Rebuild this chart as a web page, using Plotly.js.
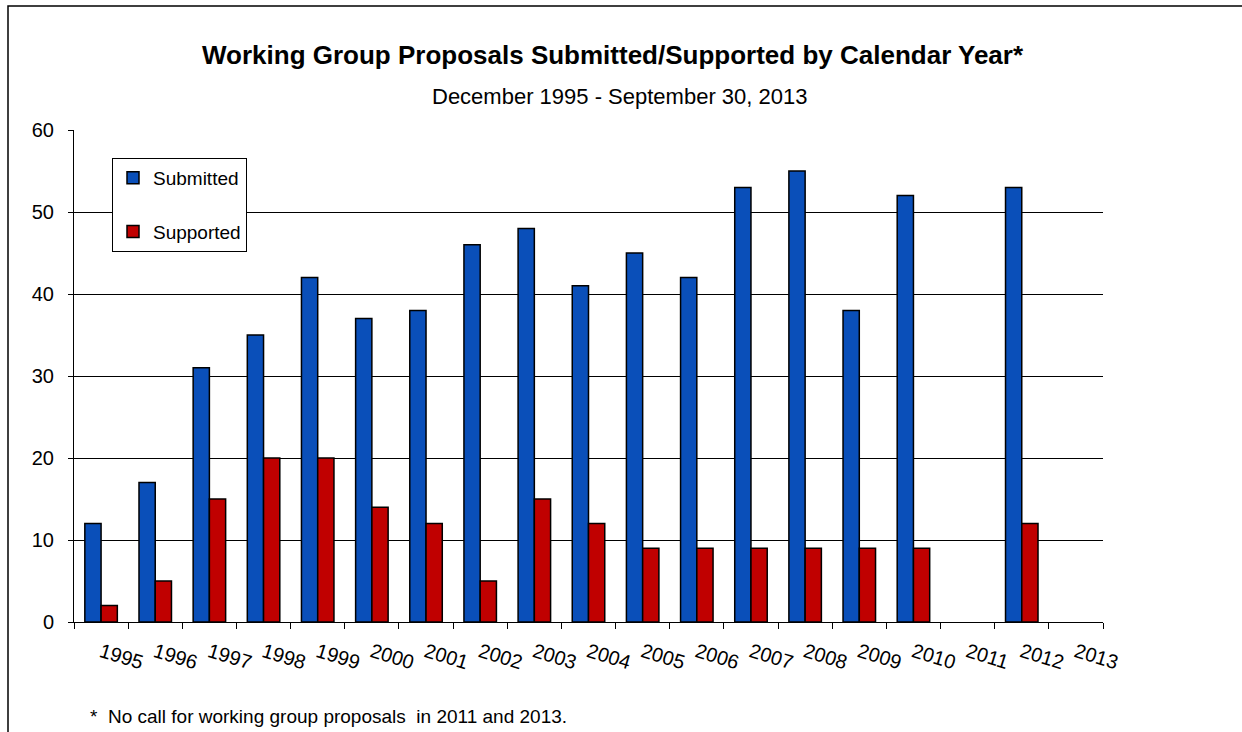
<!DOCTYPE html>
<html><head><meta charset="utf-8">
<script src="https://cdn.plot.ly/plotly-3.0.1.min.js"></script>
<style>html,body{margin:0;padding:0;background:#fff;}#chart{width:1242px;height:732px;}</style>
</head><body><div id="chart"></div>
<script>
const years = ['1995','1996','1997','1998','1999','2000','2001','2002','2003','2004','2005','2006','2007','2008','2009','2010','2011','2012','2013'];
const submitted = [12,17,31,35,42,37,38,46,48,41,45,42,53,55,38,52,null,53,null];
const supported = [2,5,15,20,20,14,12,5,15,12,9,9,9,9,9,9,null,12,null];
const yTicks = [0,10,20,30,40,50,60];

const L=74, R=1103, T=130, B=622, W=1242, H=732;
const px = x => (x-L)/(R-L);
const py = y => (B-y)/(B-T);

const traces = [
  {type:'bar', name:'Submitted', x:years, y:submitted, legendgroup:'a',
   marker:{color:'#0A4FB9', line:{color:'#000', width:1.5}}},
  {type:'bar', name:'Supported', x:years, y:supported, legendgroup:'b',
   marker:{color:'#C00000', line:{color:'#000', width:1.5}}}
];

const layout = {
  width:W, height:H,
  margin:{l:L, r:W-R, t:T, b:H-B},
  paper_bgcolor:'#fff', plot_bgcolor:'#fff',
  font:{family:'Liberation Sans, Arial, sans-serif', color:'#000', size:16},
  barmode:'group', bargap:0.4, bargroupgap:0,
  showlegend:true,
  legend:{x:px(112), y:py(158), xanchor:'left', yanchor:'top',
    bordercolor:'#000', borderwidth:1, bgcolor:'#fff',
    font:{size:19}, traceorder:'grouped', tracegroupgap:26,
    itemwidth:30},
  xaxis:{type:'category', tickangle:17, tickson:'boundaries', ticks:'outside', ticklen:6,
    tickcolor:'#000', showline:true, linecolor:'#000', linewidth:1, showgrid:false,
    tickfont:{size:20}, ticklabelstandoff:10, fixedrange:true, range:[-0.5,18.5]},
  yaxis:{range:[0,60], tickvals:yTicks, ticks:'outside', ticklen:5, tickcolor:'#000',
    showline:true, linecolor:'#000', linewidth:1, showgrid:true, gridcolor:'#000', gridwidth:1,
    zeroline:false, tickfont:{size:20}, ticklabelstandoff:10},
  annotations:[
    {text:'<b>Working Group Proposals Submitted/Supported by Calendar Year*</b>', xref:'paper', yref:'paper',
     x:px(613), y:py(55), xanchor:'center', yanchor:'middle', showarrow:false, font:{size:26}},
    {text:'December 1995 - September 30, 2013', xref:'paper', yref:'paper',
     x:px(619), y:py(97), xanchor:'center', yanchor:'middle', showarrow:false, font:{size:22}},
    {text:'*  No call for working group proposals  in 2011 and 2013.', xref:'paper', yref:'paper',
     x:px(88), y:py(716), xanchor:'left', yanchor:'middle', showarrow:false, font:{size:19}}
  ],
  shapes:[
    {type:'rect', xref:'paper', yref:'paper', x0:px(8), x1:px(1300), y0:py(800), y1:py(6),
     line:{color:'#000', width:1.5}, fillcolor:'rgba(0,0,0,0)', layer:'below'}
  ]
};

Plotly.newPlot('chart', traces, layout, {displayModeBar:false, staticPlot:true});
</script></body></html>
